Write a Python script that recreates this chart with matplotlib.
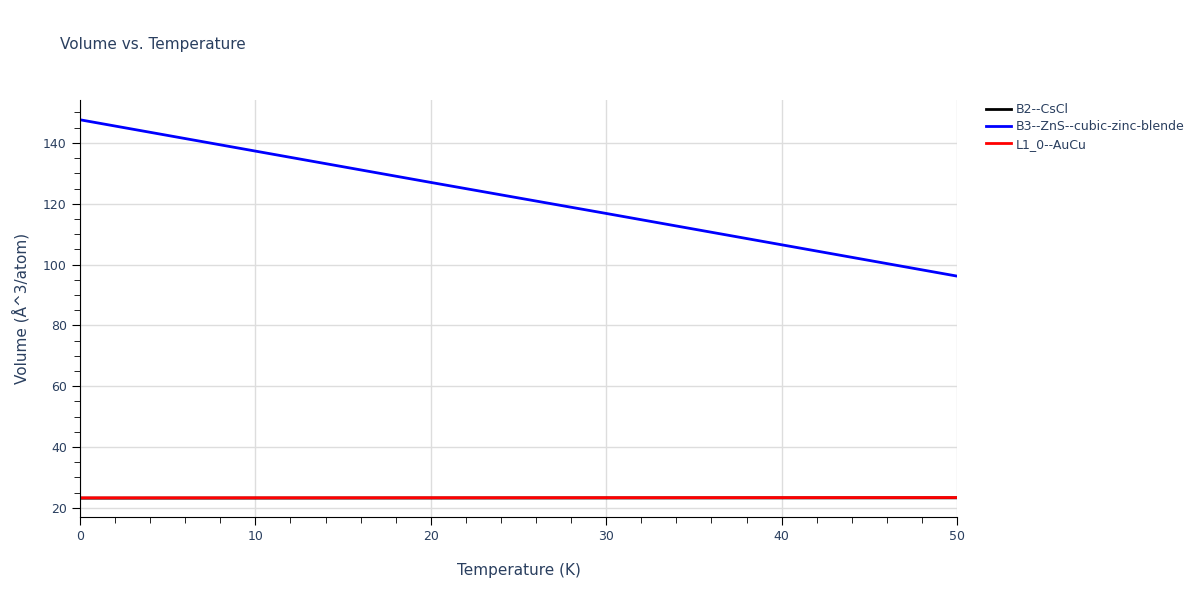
import matplotlib.pyplot as plt
from matplotlib.ticker import MultipleLocator

temps = [0, 10, 20, 30, 40, 50]
b2_cscl = [23.2, 23.22, 23.24, 23.26, 23.28, 23.3]
b3_zns = [147.6, 137.3, 127.0, 116.8, 106.5, 96.2]
l10_aucu = [23.3, 23.32, 23.34, 23.36, 23.38, 23.4]

fig = plt.figure(figsize=(12, 6), dpi=100)
ax = fig.add_axes([80/1200, 1-517/600, (957-80)/1200, 417/600])
ax.plot(temps, b2_cscl, color='black', lw=2, label='B2--CsCl')
ax.plot(temps, b3_zns, color='blue', lw=2, label='B3--ZnS--cubic-zinc-blende')
ax.plot(temps, l10_aucu, color='red', lw=2, label='L1_0--AuCu')
ax.set_xlim(0, 50)
ax.set_ylim(17.0, 154.1)
ax.xaxis.set_major_locator(MultipleLocator(10))
ax.xaxis.set_minor_locator(MultipleLocator(2))
ax.yaxis.set_major_locator(MultipleLocator(20))
ax.yaxis.set_minor_locator(MultipleLocator(5))
ax.grid(True, which='major', color='#dddddd', lw=1)
ax.set_axisbelow(True)
for s in ['top', 'right']:
    ax.spines[s].set_visible(False)
for s in ['left', 'bottom']:
    ax.spines[s].set_color('black')
ax.tick_params(which='major', length=6, color='black', labelcolor='#2a3f5f', labelsize=9)
ax.tick_params(which='minor', length=4, color='black')
ax.set_xlabel('Temperature (K)', color='#2a3f5f', fontsize=11, labelpad=14)
ax.set_ylabel('Volume (Å^3/atom)', color='#2a3f5f', fontsize=11, labelpad=10)
fig.text(60/1200, 1-45/600, 'Volume vs. Temperature', color='#2a3f5f', fontsize=11, va='center')
leg = ax.legend(loc='upper left', bbox_to_anchor=(1.02, 1.02), frameon=False, fontsize=9,
                handlelength=2, handletextpad=0.4, labelspacing=0.35, labelcolor='#2a3f5f')
plt.savefig('out.png')
